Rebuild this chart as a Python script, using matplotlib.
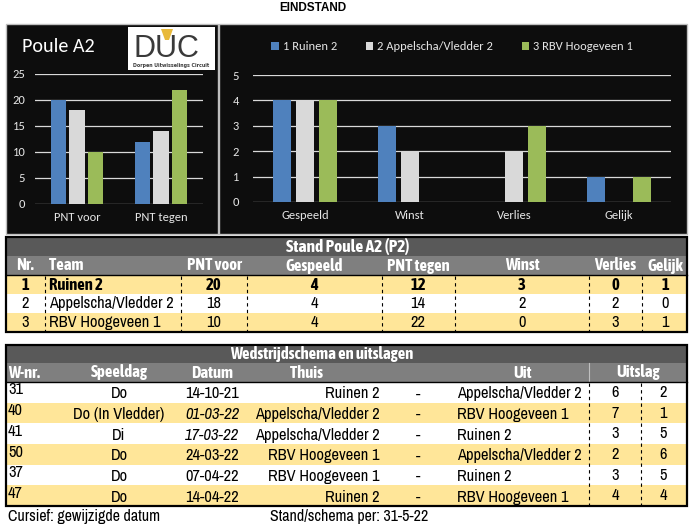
import numpy as np
import matplotlib
matplotlib.use('Agg')
import matplotlib.pyplot as plt
from matplotlib.patches import Rectangle, Polygon

# --- data ---
teams = ['Ruinen 2', 'Appelscha/Vledder 2', 'RBV Hoogeveen 1']
legend_labels = ['1 Ruinen 2', '2 Appelscha/Vledder 2', '3 RBV Hoogeveen 1']
pnt_voor = [20, 18, 10]
pnt_tegen = [12, 14, 22]
gespeeld = [4, 4, 4]
winst = [3, 2, 0]
verlies = [0, 2, 3]
gelijk = [1, 0, 1]

left_cats = ['PNT voor', 'PNT tegen']
right_cats = ['Gespeeld', 'Winst', 'Verlies', 'Gelijk']

w_nr = ['31', '40', '41', '50', '37', '47']
speeldag = ['Do', 'Do (In Vledder)', 'Di', 'Do', 'Do', 'Do']
datum = ['14-10-21', '01-03-22', '17-03-22', '24-03-22', '07-04-22', '14-04-22']
gewijzigd = [False, True, True, False, False, False]
thuis = ['Ruinen 2', 'Appelscha/Vledder 2', 'Appelscha/Vledder 2',
         'RBV Hoogeveen 1', 'RBV Hoogeveen 1', 'Ruinen 2']
uit = ['Appelscha/Vledder 2', 'RBV Hoogeveen 1', 'Ruinen 2',
       'Appelscha/Vledder 2', 'Ruinen 2', 'RBV Hoogeveen 1']
score_thuis = [6, 7, 3, 2, 3, 4]
score_uit = [2, 1, 5, 6, 5, 4]

colors = ['#4F81BD', '#D9D9D9', '#9BBB59']
yellow = '#FFE699'
dark = '#595959'
mid = '#7F7F7F'
narrow = ['Archivo Narrow', 'Liberation Sans', 'DejaVu Sans']
narrow_bold = ['Asap Condensed', 'Liberation Sans', 'DejaVu Sans']
chartfont = ['Carlito', 'Lato', 'DejaVu Sans']

W, H = 689, 528
fig = plt.figure(figsize=(W / 100, H / 100), dpi=100)
fig.patch.set_facecolor('white')

bg = fig.add_axes([0, 0, 1, 1])
bg.set_xlim(0, W)
bg.set_ylim(H, 0)
bg.axis('off')


def px_axes(x0, y0, x1, y1):
    return fig.add_axes([x0 / W, 1 - y1 / H, (x1 - x0) / W, (y1 - y0) / H])


bg.text(313, 8, 'EINDSTAND', ha='center', va='center', fontsize=8.5,
        fontweight='bold', family=['Liberation Sans', 'DejaVu Sans'])

# chart panels
bg.add_patch(Rectangle((6, 24), 212, 210, facecolor='#0d0d0d', edgecolor='#bfbfbf', lw=1))
bg.add_patch(Rectangle((219, 24), 468, 210, facecolor='#0d0d0d', edgecolor='#bfbfbf', lw=1))
bg.text(22, 47, 'Poule A2', color='white', fontsize=14.5, va='center', family=chartfont)

# logo
bg.add_patch(Rectangle((128, 27), 87, 43, facecolor='white', edgecolor='none'))
bg.text(166, 49, 'DUC', ha='center', va='center', fontsize=22, color='#3a3a3a',
        family=['Liberation Sans', 'DejaVu Sans'])
bg.add_patch(Polygon([[161, 29], [173, 29], [169, 40], [165, 40]],
                     closed=True, facecolor='#E8B93A', edgecolor='none'))
bg.text(171, 66, 'Dorpen Uitwisselings Circuit', ha='center', va='center',
        fontsize=3.4, color='#3a3a3a', fontweight='bold')


def style(ax, ymax, step, pad):
    ax.set_facecolor('none')
    ax.set_ylim(0, ymax)
    ax.set_yticks(np.arange(0, ymax + 0.1, step))
    ax.yaxis.grid(True, color='#d9d9d9', lw=0.9)
    ax.set_axisbelow(True)
    for s in ax.spines.values():
        s.set_visible(False)
    ax.tick_params(axis='both', length=0, colors='#e6e6e6', labelsize=9)
    ax.tick_params(axis='y', pad=pad)
    ax.tick_params(axis='x', pad=6)
    for lab in ax.get_xticklabels() + ax.get_yticklabels():
        lab.set_family(chartfont)


# left chart
axl = px_axes(35, 74, 203, 204)
x = np.arange(len(left_cats))
for i in range(3):
    axl.bar(x + (i - 1) * 0.22, [pnt_voor[i], pnt_tegen[i]], 0.18, color=colors[i])
axl.set_xlim(-0.5, 1.5)
axl.set_xticks(x, left_cats)
style(axl, 25, 5, 7)

# right chart
axr = px_axes(253, 75, 671, 202)
x = np.arange(len(right_cats))
series = [[gespeeld[i], winst[i], verlies[i], gelijk[i]] for i in range(3)]
bars = []
for i in range(3):
    bars.append(axr.bar(x + (i - 1) * 0.22, series[i], 0.17, color=colors[i],
                        label=legend_labels[i]))
axr.set_xlim(-0.5, 3.5)
axr.set_xticks(x, right_cats)
style(axr, 5, 1, 10)
leg = fig.legend(handles=bars, labels=legend_labels, loc='center',
                 bbox_to_anchor=(452 / W, 1 - 47 / H), ncol=3, frameon=False,
                 handlelength=0.6, handleheight=0.6, handletextpad=0.3,
                 columnspacing=2.3, prop={'family': chartfont, 'size': 9})
for t in leg.get_texts():
    t.set_color('#e6e6e6')


def cell(x0, y0, x1, y1, color):
    bg.add_patch(Rectangle((x0, y0), x1 - x0, y1 - y0, facecolor=color, edgecolor='none'))


def txt(xx, yy, s, ha='center', color='black', bold=False, italic=False, size=None):
    if size is None:
        size = 12 if bold else 11.8
    bg.text(xx, yy, s, ha=ha, va='center', color=color,
            fontweight='bold' if bold else 'normal',
            fontstyle='italic' if italic else 'normal', fontsize=size,
            family=narrow_bold if bold else narrow)


# --- table 1: stand ---
t1_top, t1_title, t1_head = 237, 256, 275
rh1 = 19
cols1 = [6, 45, 181, 247, 382, 455, 589, 642, 687]
cell(6, t1_top, 687, t1_title, dark)
cell(6, t1_title, 687, t1_head, mid)
txt(348, (t1_top + t1_title) / 2, 'Stand Poule A2 (P2)', color='white', bold=True, size=12.5)
heads1 = ['Nr.', 'Team', 'PNT voor', 'Gespeeld', 'PNT tegen', 'Winst', 'Verlies', 'Gelijk']
hx1 = [25, 49, 214, 314, 418, 522, 615, 665]
for j, h in enumerate(heads1):
    txt(hx1[j], (t1_title + t1_head) / 2, h, ha='left' if j == 1 else 'center',
        color='white', bold=True)
for i in range(3):
    y0 = t1_head + i * rh1
    cell(6, y0, 687, y0 + rh1, yellow if i % 2 == 0 else 'white')
    vals = [str(i + 1), teams[i], pnt_voor[i], gespeeld[i], pnt_tegen[i],
            winst[i], verlies[i], gelijk[i]]
    for j, v in enumerate(vals):
        txt(hx1[j], y0 + rh1 / 2, str(v), ha='left' if j == 1 else 'center', bold=(i == 0))
t1_bot = t1_head + 3 * rh1
for cx in cols1[1:-1]:
    bg.plot([cx, cx], [t1_head + 1, t1_bot - 1], color='black', lw=0.8, ls=(0, (3, 3)))
bg.plot([6, 687], [t1_head, t1_head], color='black', lw=1)
bg.add_patch(Rectangle((6, t1_top), 681, t1_bot - t1_top, facecolor='none',
                       edgecolor='black', lw=1.6))

# --- table 2: wedstrijdschema ---
t2_top, t2_title, t2_head = 345, 363, 382
rh2 = 20.67
cell(6, t2_top, 687, t2_title, dark)
cell(6, t2_title, 687, t2_head, mid)
txt(322, (t2_top + t2_title) / 2, 'Wedstrijdschema en uitslagen', color='white', bold=True,
    size=12)
hy = (t2_title + t2_head) / 2
txt(8, hy, 'W-nr.', ha='left', color='white', bold=True)
txt(119, hy, 'Speeldag', color='white', bold=True)
txt(212, hy, 'Datum', color='white', bold=True)
txt(307, hy, 'Thuis', color='white', bold=True)
txt(522, hy, 'Uit', color='white', bold=True)
txt(638, hy, 'Uitslag', color='white', bold=True)
bg.plot([589, 589], [t2_title, t2_head], color='#bfbfbf', lw=0.8)
for i in range(len(w_nr)):
    y0 = t2_head + i * rh2
    cell(6, y0, 687, y0 + rh2, 'white' if i % 2 == 0 else yellow)
    yc = y0 + rh2 / 2 + 1.5
    txt(8, y0 + 8, w_nr[i], ha='left')
    txt(119, yc, speeldag[i])
    txt(212, yc, datum[i], italic=gewijzigd[i])
    txt(380, yc, thuis[i], ha='right')
    txt(418, yc, '-')
    txt(457, yc, uit[i], ha='left')
    txt(615, y0 + rh2 / 2, str(score_thuis[i]))
    txt(663, y0 + rh2 / 2, str(score_uit[i]))
t2_bot = t2_head + len(w_nr) * rh2
for cx in [589, 641]:
    bg.plot([cx, cx], [t2_head + 1, t2_bot - 1], color='black', lw=0.8, ls=(0, (3, 3)))
bg.plot([6, 687], [t2_head, t2_head], color='black', lw=1)
bg.add_patch(Rectangle((6, t2_top), 681, t2_bot - t2_top, facecolor='none',
                       edgecolor='black', lw=1.6))

txt(8, 517, 'Cursief: gewijzigde datum', ha='left', size=11.5)
txt(270, 517, 'Stand/schema per: 31-5-22', ha='left', size=11.5)

fig.savefig('out.png', dpi=100, facecolor='white')
